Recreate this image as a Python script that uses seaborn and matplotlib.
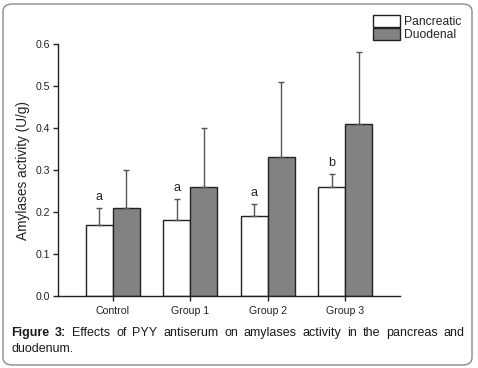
import matplotlib
matplotlib.use("Agg")
import matplotlib.pyplot as plt
from matplotlib.patches import FancyBboxPatch
import seaborn as sns
import pandas as pd
import numpy as np

groups = ["Control", "Group 1", "Group 2", "Group 3"]
series = ["Pancreatic", "Duodenal"]
pancreatic = [0.17, 0.18, 0.19, 0.26]
duodenal = [0.21, 0.26, 0.33, 0.41]
pancreatic_err = [0.04, 0.05, 0.03, 0.03]
duodenal_err = [0.09, 0.14, 0.18, 0.17]
sig_letters = ["a", "a", "a", "b"]
yticks = [0.0, 0.1, 0.2, 0.3, 0.4, 0.5, 0.6]

sns.set_theme(style="ticks")
plt.rcParams["font.family"] = ["Liberation Sans", "DejaVu Sans"]

df = pd.DataFrame({
    "group": groups * 2,
    "type": [series[0]] * 4 + [series[1]] * 4,
    "value": pancreatic + duodenal,
    "err": pancreatic_err + duodenal_err,
})

fig = plt.figure(figsize=(4.78, 3.68), dpi=100)
ax = fig.add_axes([58 / 478, 1 - 296 / 368, (400 - 58) / 478, (296 - 44) / 368])

sns.barplot(data=df, x="group", y="value", hue="type", order=groups,
            hue_order=series, palette={"Pancreatic": "white", "Duodenal": "#828282"},
            edgecolor="#222222", linewidth=1.0, width=0.7, gap=0,
            errorbar=None, ax=ax, legend=True)

# error bars from the bar patches
bars = [p for p in ax.patches if p.get_height() > 0]
bars = sorted(bars, key=lambda p: p.get_x())
err_map = {}
for i, g in enumerate(groups):
    err_map[(i, 0)] = pancreatic_err[i]
    err_map[(i, 1)] = duodenal_err[i]
for k, p in enumerate(bars):
    gi, si = k // 2, k % 2
    xc = p.get_x() + p.get_width() / 2
    h = p.get_height()
    e = err_map[(gi, si)]
    ax.errorbar([xc], [h], yerr=[[0], [e]], fmt="none", ecolor="#555555",
                elinewidth=1.0, capsize=2.0, capthick=1.0, zorder=1)
    if si == 0:
        ax.text(xc, h + e + 0.012, sig_letters[gi], ha="center", va="bottom",
                fontsize=9, color="#222222")

ax.set_xlim(-0.71, 3.71)
ax.set_ylim(0, 0.6)
ax.set_yticks(yticks)
ax.set_yticklabels([f"{v:.1f}" for v in yticks])
ax.set_xlabel("")
ax.set_ylabel("Amylases activity (U/g)", fontsize=9.8, color="#222222", labelpad=4)
ax.tick_params(axis="both", direction="out", length=3.5, width=1.0, color="#222222",
               labelsize=7.6, labelcolor="#222222", pad=2)
ax.tick_params(axis="x", pad=4)
for s in ["top", "right"]:
    ax.spines[s].set_visible(False)
for s in ["left", "bottom"]:
    ax.spines[s].set_color("#222222")
    ax.spines[s].set_linewidth(1.0)
ax.set_facecolor("white")

handles, labels = ax.get_legend_handles_labels()
ax.legend(handles, labels, loc="upper left", bbox_to_anchor=(373 / 478, 1 - 15 / 368),
          bbox_transform=fig.transFigure, frameon=False, fontsize=8.7,
          handlelength=2.25, handleheight=1.1, handletextpad=0.3,
          labelspacing=0.02, borderpad=0, borderaxespad=0)

# rounded frame around the figure
frame = FancyBboxPatch((3 / 478, 3 / 368), 469 / 478, 361 / 368,
                       boxstyle="round,pad=0,rounding_size=0.02",
                       transform=fig.transFigure, fill=False,
                       edgecolor="#8a8a8a", linewidth=1.0)
fig.patches.append(frame)

# justified caption
fig.canvas.draw()
renderer = fig.canvas.get_renderer()
line1 = ["Figure", "3:", "Effects", "of", "PYY", "antiserum", "on", "amylases",
         "activity", "in", "the", "pancreas", "and"]
bold_n = 2
left_px, right_px = 11, 465
y1 = 1 - 333 / 368
y2 = 1 - 349 / 368
cap_size = 9.0
texts = []
widths = []
for i, w in enumerate(line1):
    t = fig.text(0, y1, w, fontsize=cap_size, va="center", ha="left",
                 fontweight="bold" if i < bold_n else "normal", color="#1a1a1a")
    bb = t.get_window_extent(renderer=renderer)
    texts.append(t)
    widths.append(bb.width)
gap = (right_px - left_px - sum(widths)) / (len(line1) - 1)
x = left_px
for t, w in zip(texts, widths):
    t.set_x(x / 478)
    x += w + gap
fig.text(left_px / 478, y2, "duodenum.", fontsize=cap_size, va="center", ha="left",
         color="#1a1a1a")

fig.savefig("out.png", dpi=100, facecolor="white")
